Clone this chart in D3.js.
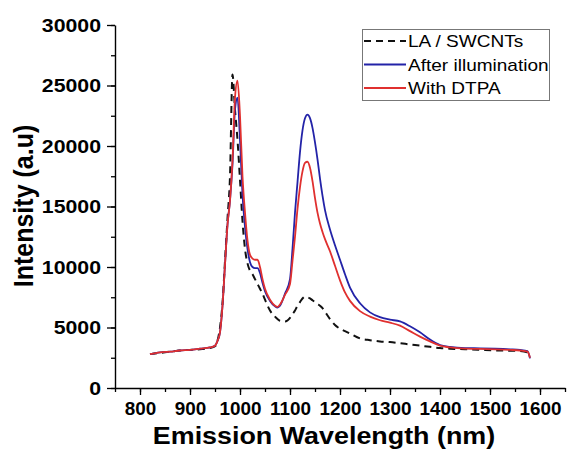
<!DOCTYPE html>
<html>
<head>
<meta charset="utf-8">
<script src="https://cdn.jsdelivr.net/npm/d3@7"></script>
<style>
  html, body { margin: 0; padding: 0; background: #fff; }
  svg { display: block; font-family: "Liberation Sans", Arial, sans-serif; }
</style>
</head>
<body>
<div id="chart"></div>
<script>
// ---------------------------------------------------------------------------
// data
// ---------------------------------------------------------------------------

const wavelength = [820, 840, 860, 880, 900, 920, 940, 950, 955, 960, 965, 970, 975, 980, 985, 990, 995, 1000,
  1005, 1010, 1015, 1020, 1025, 1030, 1035, 1040, 1045, 1050, 1060, 1070, 1075, 1080, 1090, 1100,
  1105, 1110, 1115, 1120, 1125, 1130, 1135, 1140, 1145, 1150, 1155, 1160, 1165, 1170, 1180, 1190, 1200, 1210,
  1220, 1240, 1260, 1280, 1300, 1320, 1340, 1360, 1380, 1400, 1420, 1450, 1480, 1510, 1540, 1560, 1575, 1580];

const swcnt = [2800, 2900, 3000, 3100, 3150, 3200, 3300, 3450, 3900, 5000, 7000, 10500, 14000, 17500, 25900, 23000, 20500, 17200,
  13800, 11500, 10300, 9700, 9400, 9000, 8600, 8200, 7800, 7300, 6400, 5900, 5700, 5550, 5500, 5800,
  6100, 6400, 6800, 7100, 7400, 7550, 7500, 7400, 7250, 7100, 6950, 6800, 6600, 6300, 5700, 5200, 4900, 4700,
  4500, 4100, 3950, 3850, 3800, 3700, 3600, 3500, 3400, 3300, 3250, 3200, 3150, 3100, 3080, 3050, 2950, 2850];

const illuminated = [2800, 2950, 3000, 3100, 3150, 3250, 3350, 3500, 3900, 4600, 6800, 10200, 13500, 15500, 18500, 23000, 24000, 20500,
  16000, 13300, 11500, 10400, 10000, 9900, 9900, 9500, 8700, 8000, 7200, 6750, 6650, 6800, 7800, 9000,
  11500, 14500, 17000, 19500, 21300, 22300, 22600, 22300, 21500, 20300, 18900, 17300, 15900, 14700, 13100, 11800, 10600, 9400,
  8300, 7000, 6250, 5850, 5650, 5500, 5100, 4600, 4000, 3550, 3400, 3300, 3280, 3250, 3200, 3150, 3050, 2450];

const dtpa = [2800, 2950, 3000, 3100, 3150, 3250, 3350, 3500, 3900, 4600, 6800, 10200, 13500, 15500, 18800, 24000, 25400, 22500,
  17500, 14500, 12200, 11000, 10700, 10600, 10600, 10000, 9000, 8200, 7300, 6800, 6700, 6900, 7700, 8600,
  10500, 12500, 14800, 16600, 17900, 18600, 18700, 18200, 17100, 15700, 14500, 13600, 12900, 12300, 11300, 10100, 8900, 7900,
  7200, 6350, 5900, 5600, 5400, 5150, 4700, 4250, 3850, 3500, 3350, 3250, 3230, 3200, 3150, 3100, 3000, 2500];

const seriesNames = ["LA / SWCNTs", "After illumination", "With DTPA"];
const seriesColors = ["#111111", "#2323a8", "#e0302f"];

const xTicks = [800, 900, 1000, 1100, 1200, 1300, 1400, 1500, 1600];
const yTicks = [0, 5000, 10000, 15000, 20000, 25000, 30000];

// ---------------------------------------------------------------------------
// drawing
// ---------------------------------------------------------------------------

const width = 569, height = 450;
const stretch = 1.12; // the glyphs in the picture are a bit wide

const svg = d3.select("#chart").append("svg")
  .attr("width", width)
  .attr("height", height);

const x = d3.scaleLinear().domain([750, 1650]).range([115, 565]);
const y = d3.scaleLinear().domain([0, 30000]).range([388, 25]);

// minor ticks first, so the major ones sit on top
svg.append("g")
  .attr("transform", `translate(0,${y(0)})`)
  .call(d3.axisBottom(x).tickValues(d3.range(750, 1651, 50)).tickSize(4).tickFormat(""))
  .call(g => g.select(".domain").remove());

svg.append("g")
  .attr("transform", `translate(${x(750)},0)`)
  .call(d3.axisLeft(y).tickValues(d3.range(0, 30001, 2500)).tickSize(4).tickFormat(""))
  .call(g => g.select(".domain").remove());

const xAxis = svg.append("g")
  .attr("transform", `translate(0,${y(0)})`)
  .call(d3.axisBottom(x).tickValues(xTicks).tickSize(7).tickSizeOuter(0).tickPadding(7).tickFormat(d3.format("d")));

const yAxis = svg.append("g")
  .attr("transform", `translate(${x(750)},0)`)
  .call(d3.axisLeft(y).tickValues(yTicks).tickSize(8).tickSizeOuter(0).tickPadding(6).tickFormat(d3.format("d")));

svg.selectAll(".tick line").attr("stroke", "#000").attr("stroke-width", 1.3);
svg.selectAll(".domain").attr("stroke", "#000").attr("stroke-width", 1.4);

// x labels sit close together, keep them a touch narrower
xAxis.selectAll("text")
  .attr("fill", "#000")
  .style("font-size", "18px")
  .style("font-weight", "bold")
  .attr("transform", "scale(1.05,1)");

yAxis.selectAll("text")
  .attr("fill", "#000")
  .style("font-size", "19px")
  .style("font-weight", "bold")
  .attr("x", -14 / stretch)
  .attr("transform", `scale(${stretch},1)`);

// axis titles
svg.append("text")
  .attr("transform", `translate(324,444) scale(${stretch},1)`)
  .attr("text-anchor", "middle")
  .style("font-size", "24px")
  .style("font-weight", "bold")
  .text("Emission Wavelength (nm)");

svg.append("text")
  .attr("transform", `translate(33,206) rotate(-90) scale(1,${stretch})`)
  .attr("text-anchor", "middle")
  .style("font-size", "25px")
  .style("font-weight", "bold")
  .text("Intensity (a.u)");

// spectra
const allSeries = [swcnt, illuminated, dtpa];
const line = d3.line()
  .x((d, i) => x(wavelength[i]))
  .y(d => y(d))
  .curve(d3.curveMonotoneX);

allSeries.forEach((values, k) => {
  svg.append("path")
    .datum(values)
    .attr("fill", "none")
    .attr("stroke", seriesColors[k])
    .attr("stroke-width", k === 0 ? 2 : 1.8)
    .attr("stroke-dasharray", k === 0 ? "7,5" : null)
    .attr("d", line);
});

// legend
const legend = svg.append("g");
legend.append("rect")
  .attr("x", 362.5).attr("y", 29.5)
  .attr("width", 187).attr("height", 71)
  .attr("fill", "#fff")
  .attr("stroke", "#777")
  .attr("stroke-width", 1);

seriesNames.forEach((name, k) => {
  const ly = 41 + k * 23.5;
  legend.append("line")
    .attr("x1", 364).attr("x2", 406)
    .attr("y1", ly).attr("y2", ly)
    .attr("stroke", seriesColors[k])
    .attr("stroke-width", 2)
    .attr("stroke-dasharray", k === 0 ? "7,5" : null);
  legend.append("text")
    .attr("transform", `translate(408,${ly + 6}) scale(${stretch},1)`)
    .style("font-size", "17px")
    .text(name);
});
</script>
</body>
</html>
